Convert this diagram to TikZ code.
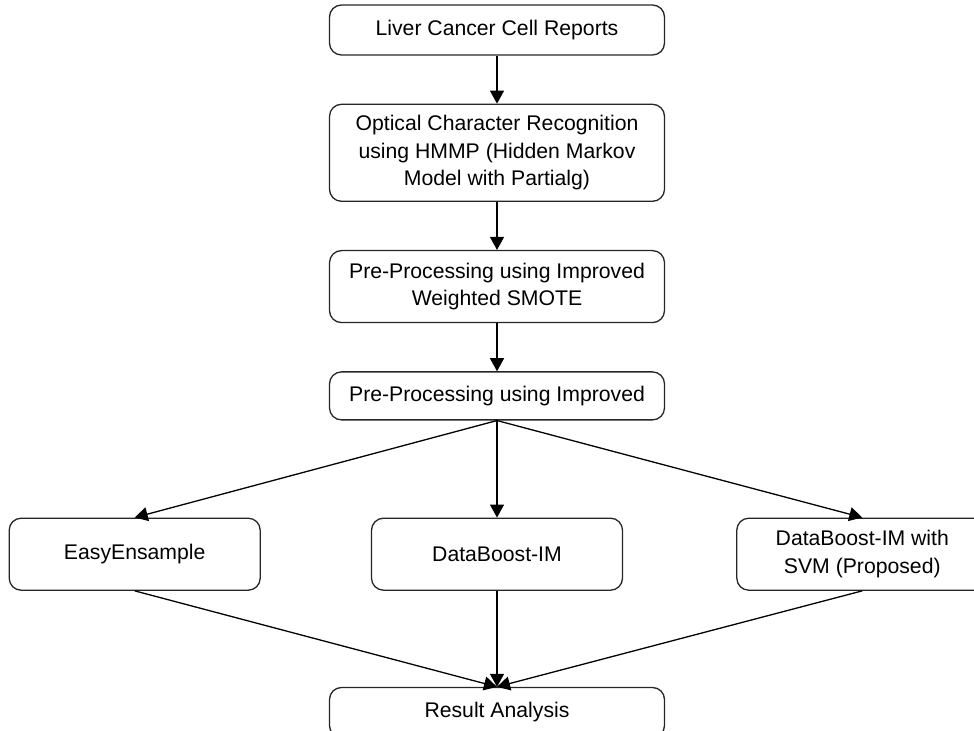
\documentclass[tikz,border=0pt]{standalone}
\usepackage{fontspec}
\setmainfont{Liberation Sans}
\usepackage{tikz}
\usetikzlibrary{positioning, arrows.meta}
\tikzset{
    >={Triangle[length=6.5pt, width=7pt]}, % filled heads
    node distance=24pt, % gap between the stacked boxes
    every edge/.style={draw, ->, line width=0.65pt},
}
\tikzset{stage/.style={
        rectangle, rounded corners=6pt, draw=black!85, line width=0.65pt,
        align=center, inner sep=2pt, font=\fontsize{10.6}{13.8}\selectfont,
        minimum width=167.5pt, minimum height=25pt,
    }
}
\tikzset{method/.style={
        stage, minimum width=125.5pt, minimum height=36pt,
    }
}

\begin{document}
\begin{tikzpicture}[x=0.5pt, y=-0.5pt]
        \useasboundingbox (0,0) rectangle (974,731);
        % Nodes
        \node[stage] (reports) at (497,30) {Liver Cancer Cell Reports};
        \node[stage, below=of reports, minimum height=48.5pt] (ocr)
            {Optical Character Recognition\\using HMMP (Hidden Markov\\Model with Partialg)};
        \node[stage, below=of ocr, minimum height=36pt] (smote)
            {Pre-Processing using Improved\\Weighted SMOTE};
        \node[stage, below=of smote, minimum height=24pt] (prep) {Pre-Processing using Improved};
        \node[method, below=48.5pt of prep] (dbim) {DataBoost-IM};
        \node[method, left=55pt of dbim] (easy) {EasyEnsample};
        \node[method, right=56.5pt of dbim] (dbsvm) {DataBoost-IM with\\SVM (Proposed)};
        \node[stage, below=48pt of dbim] (result) {Result Analysis};

        % Draw lines
        \draw
            (reports) edge (ocr)
            (ocr) edge (smote)
            (smote) edge (prep)
            (prep.south) edge (easy.north)
            (prep.south) edge (dbim.north)
            (prep.south) edge (dbsvm.north)
            (easy.south) edge (result.north)
            (dbim.south) edge (result.north)
            (dbsvm.south) edge (result.north);
    \end{tikzpicture}
\end{document}
